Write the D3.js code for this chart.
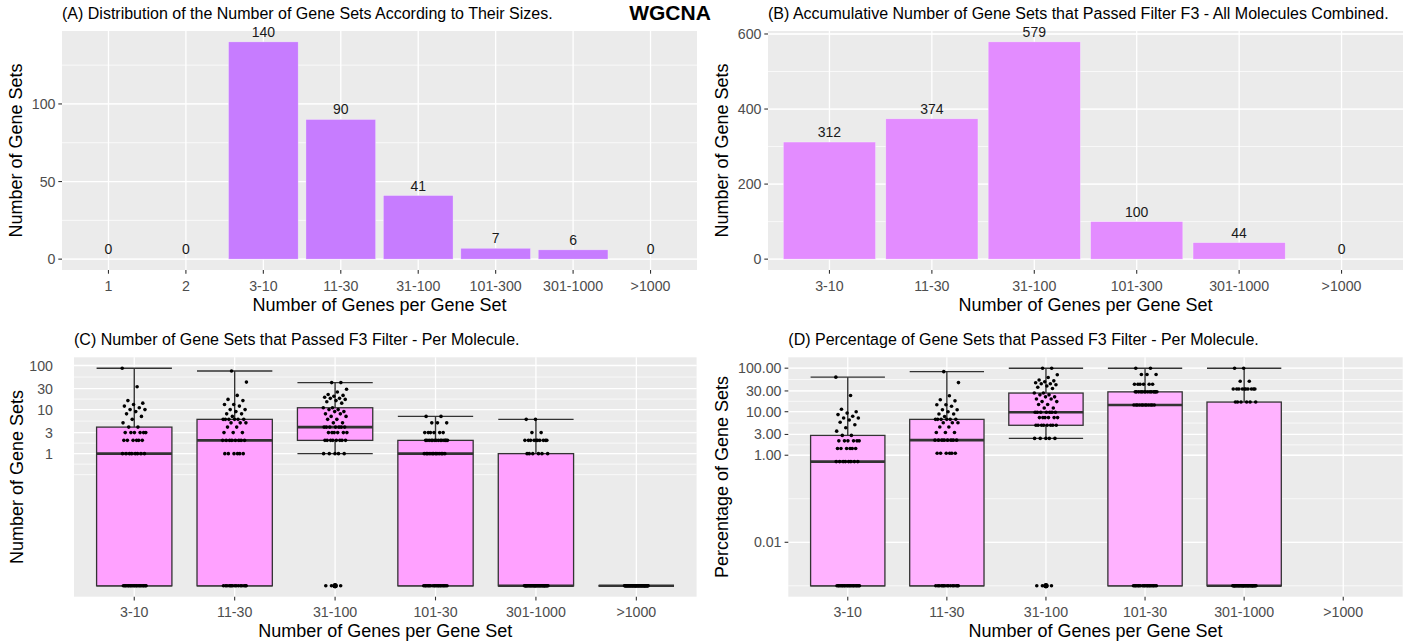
<!DOCTYPE html>
<html>
<head>
<meta charset="utf-8">
<script src="https://cdn.jsdelivr.net/npm/d3@7/dist/d3.min.js"></script>
<style>
body { margin: 0; background: #fff; }
svg text { font-family: "Liberation Sans", Arial, Helvetica, sans-serif; }
</style>
</head>
<body>
<svg id="chart" width="1412" height="644"></svg>
<script>
var sizeCategories = ["1", "2", "3-10", "11-30", "31-100", "101-300", "301-1000", ">1000"];
var sizeCounts = [0, 0, 140, 90, 41, 7, 6, 0];

var passCategories = ["3-10", "11-30", "31-100", "101-300", "301-1000", ">1000"];
var passTotals = [312, 374, 579, 100, 44, 0];

var moleculeCategories = ["3-10", "11-30", "31-100", "101-30", "301-1000", ">1000"];
// number of gene sets passing F3, one value per molecule
var perMolecule_3_10 = [87, 33, 16, 14, 13, 12, 11, 10, 10, 9, 8, 7, 6, 5, 4, 4,
	3, 3, 3, 3, 3, 3, 2, 2, 2, 2, 2, 2, 1, 1, 1, 1, 1, 1, 1, 1,
	0, 0, 0, 0, 0, 0, 0, 0, 0, 0, 0, 0, 0, 0, 0, 0, 0, 0, 0, 0, 0];
var perMolecule_11_30 = [75, 42, 21, 17, 16, 13, 13, 12, 10, 10, 9, 8, 8, 7,
	6, 6, 6, 6, 6, 6, 5, 5, 5, 4, 4, 3, 3, 3, 2, 2, 2, 2, 2, 2, 2, 2,
	1, 1, 1, 1, 1, 1, 0, 0, 0, 0, 0, 0, 0, 0, 0, 0, 0, 0, 0, 0, 0];
var perMolecule_31_100 = [41, 41, 29, 25, 22, 21, 20, 19, 18, 18, 17, 16, 15, 14,
	11, 11, 10, 10, 9, 9, 8, 8, 7, 7, 6, 6, 5, 5, 4, 4, 4, 4, 4, 4, 4,
	3, 3, 3, 3, 3, 3, 2, 2, 2, 2, 2, 2, 2, 2, 1, 1, 1, 1, 1, 0, 0, 0];
var perMolecule_101_300 = [7, 7, 5, 5, 5, 3, 3, 3, 3, 3, 3,
	2, 2, 2, 2, 2, 2, 2, 2, 2, 2, 2, 2, 2, 2, 1, 1, 1, 1, 1, 1, 1, 1, 1, 1, 1, 1,
	0, 0, 0, 0, 0, 0, 0, 0, 0, 0, 0, 0, 0, 0, 0, 0, 0, 0, 0, 0];
var perMolecule_301_1000 = [6, 6, 3, 3, 2, 2, 2, 2, 2, 2, 2, 2, 2, 2, 1, 1, 1, 1, 1, 1,
	0, 0, 0, 0, 0, 0, 0, 0, 0, 0, 0, 0, 0, 0, 0, 0, 0, 0, 0, 0, 0, 0, 0, 0, 0, 0, 0, 0, 0, 0,
	0, 0, 0, 0, 0, 0, 0];
var perMolecule_over_1000 = [0, 0, 0, 0, 0, 0, 0, 0, 0, 0, 0, 0, 0, 0, 0, 0, 0, 0, 0, 0,
	0, 0, 0, 0, 0, 0, 0, 0, 0, 0, 0, 0, 0, 0, 0, 0, 0, 0, 0, 0, 0, 0, 0, 0, 0, 0, 0, 0, 0, 0,
	0, 0, 0, 0, 0, 0, 0];

var aTicks = [0, 50, 100];
var bTicks = [0, 200, 400, 600];
var cTicks = [1, 3, 10, 30, 100];
var cTickLabels = ["1", "3", "10", "30", "100"];
var dTicks = [0.01, 1, 3, 10, 30, 100];
var dTickLabels = ["0.01", "1.00", "3.00", "10.00", "30.00", "100.00"];

var ZERO_FLOOR = 0.001;
var FONT_TICK = 14.2, FONT_VALUE = 14, FONT_AXIS = 18, FONT_TITLE = 16;

var svg = d3.select("#chart");

function minorBreaks(ticks, toT, fromT) {
	var b = ticks.map(toT);
	var bd = b[1] - b[0];
	b.unshift(b[0] - bd);
	b.push(b[b.length - 1] + bd);
	var out = [];
	for (var i = 0; i < b.length - 1; i++) {
		out.push(b[i]);
		out.push((b[i] + b[i + 1]) / 2);
	}
	return out.map(fromT);
}

function drawFrame(p, x, y, ticks, labels, minor) {
	var g = svg.append("g");
	g.append("rect")
		.attr("x", p.x0).attr("y", p.y0)
		.attr("width", p.x1 - p.x0).attr("height", p.y1 - p.y0)
		.attr("fill", "#EBEBEB");

	var inside = function(v) { var py = y(v); return py >= p.y0 && py <= p.y1; };
	g.selectAll(".minor").data(minor.filter(inside)).enter().append("line")
		.attr("x1", p.x0).attr("x2", p.x1)
		.attr("y1", function(d) { return y(d); }).attr("y2", function(d) { return y(d); })
		.attr("stroke", "#fff").attr("stroke-width", 0.7);
	g.selectAll(".major").data(ticks).enter().append("line")
		.attr("x1", p.x0).attr("x2", p.x1)
		.attr("y1", function(d) { return y(d); }).attr("y2", function(d) { return y(d); })
		.attr("stroke", "#fff").attr("stroke-width", 1.3);
	g.selectAll(".vgrid").data(x.domain()).enter().append("line")
		.attr("x1", function(d) { return x(d); }).attr("x2", function(d) { return x(d); })
		.attr("y1", p.y0).attr("y2", p.y1)
		.attr("stroke", "#fff").attr("stroke-width", 1.3);

	// y axis
	g.selectAll(".ylab").data(ticks).enter().append("text")
		.attr("x", p.ylabX).attr("y", function(d) { return y(d) + 5; })
		.attr("text-anchor", "end").attr("font-size", FONT_TICK).attr("fill", "#4D4D4D")
		.text(function(d, i) { return labels[i]; });
	if (p.yTicks) {
		g.selectAll(".ytick").data(ticks).enter().append("line")
			.attr("x1", p.x0 - 3.7).attr("x2", p.x0)
			.attr("y1", function(d) { return y(d); }).attr("y2", function(d) { return y(d); })
			.attr("stroke", "#333").attr("stroke-width", 1.1);
	}
	// x axis
	g.selectAll(".xtick").data(x.domain()).enter().append("line")
		.attr("x1", function(d) { return x(d); }).attr("x2", function(d) { return x(d); })
		.attr("y1", p.y1).attr("y2", p.y1 + 3.7)
		.attr("stroke", "#333").attr("stroke-width", 1.1);
	g.selectAll(".xlab").data(x.domain()).enter().append("text")
		.attr("x", function(d) { return x(d); }).attr("y", p.y1 + 20.5)
		.attr("text-anchor", "middle").attr("font-size", FONT_TICK).attr("fill", "#4D4D4D")
		.text(function(d) { return d; });

	g.append("text")
		.attr("x", (p.x0 + p.x1) / 2).attr("y", p.y1 + 40.5)
		.attr("text-anchor", "middle").attr("font-size", FONT_AXIS).attr("fill", "#000")
		.text(p.xTitle);
	g.append("text")
		.attr("transform", "translate(" + p.yTitleX + "," + ((p.y0 + p.y1) / 2) + ") rotate(-90)")
		.attr("text-anchor", "middle").attr("font-size", FONT_AXIS).attr("fill", "#000")
		.text(p.yTitle);
	g.append("text")
		.attr("x", p.x0).attr("y", p.y0 - 12.5)
		.attr("font-size", FONT_TITLE).attr("fill", "#000")
		.text(p.title);
	return g;
}

function drawBarPanel(p, cats, values, ticks, fill) {
	var x = d3.scalePoint().domain(cats).range([p.x0, p.x1]).padding(0.6);
	var top = d3.max(values);
	var y = d3.scaleLinear().domain([-top * 0.05, top * 1.05]).range([p.y1, p.y0]);
	var minor = minorBreaks(ticks, function(v) { return v; }, function(v) { return v; });
	var g = drawFrame(p, x, y, ticks, ticks.map(String), minor);
	var bw = x.step() * 0.9;
	var data = cats.map(function(c, i) { return { cat: c, v: values[i] }; });

	g.selectAll(".bar").data(data.filter(function(d) { return d.v > 0; })).enter().append("rect")
		.attr("x", function(d) { return x(d.cat) - bw / 2; })
		.attr("y", function(d) { return y(d.v); })
		.attr("width", bw)
		.attr("height", function(d) { return y(0) - y(d.v); })
		.attr("fill", fill)
		.attr("stroke", "#fff").attr("stroke-opacity", 0.5).attr("stroke-width", 0.6);
	g.selectAll(".val").data(data).enter().append("text")
		.attr("x", function(d) { return x(d.cat); })
		.attr("y", function(d) { return y(d.v) - 5; })
		.attr("text-anchor", "middle").attr("font-size", FONT_VALUE).attr("fill", "#1A1A1A")
		.text(function(d) { return d.v; });
}

function boxStats(vals) {
	var logs = vals.map(Math.log10).sort(d3.ascending);
	var q1 = d3.quantileSorted(logs, 0.25);
	var med = d3.quantileSorted(logs, 0.5);
	var q3 = d3.quantileSorted(logs, 0.75);
	var iqr = q3 - q1;
	var lowF = q1 - 1.5 * iqr - 1e-9, highF = q3 + 1.5 * iqr + 1e-9;
	var inside = logs.filter(function(v) { return v >= lowF && v <= highF; });
	var p10 = function(v) { return Math.pow(10, v); };
	return {
		q1: p10(q1), med: p10(med), q3: p10(q3),
		lo: p10(d3.min(inside)), hi: p10(d3.max(inside)),
		outliers: logs.filter(function(v) { return v < lowF || v > highF; }).map(p10)
	};
}

function drawBoxPanel(p, cats, groups, ticks, labels, fill) {
	var x = d3.scalePoint().domain(cats).range([p.x0, p.x1]).padding(0.6);
	var all = d3.merge(groups);
	var lo = Math.log10(d3.min(all)), hi = Math.log10(d3.max(all));
	var pad = (hi - lo) * 0.05;
	var y = d3.scaleLog().domain([Math.pow(10, lo - pad), Math.pow(10, hi + pad)]).range([p.y1, p.y0]);
	var minor = minorBreaks(ticks, Math.log10, function(v) { return Math.pow(10, v); });
	var g = drawFrame(p, x, y, ticks, labels, minor);
	var bw = x.step() * 0.75;
	var jw = x.step() * 0.12;

	groups.forEach(function(vals, k) {
		if (vals.length == 0) return;
		var cx = x(cats[k]);
		var s = boxStats(vals);
		var gb = g.append("g");
		// error bar whiskers
		gb.append("line")
			.attr("x1", cx).attr("x2", cx).attr("y1", y(s.lo)).attr("y2", y(s.hi))
			.attr("stroke", "#333").attr("stroke-width", 1.4);
		[s.lo, s.hi].forEach(function(v) {
			gb.append("line")
				.attr("x1", cx - bw / 2).attr("x2", cx + bw / 2).attr("y1", y(v)).attr("y2", y(v))
				.attr("stroke", "#333").attr("stroke-width", 1.4);
		});
		gb.append("rect")
			.attr("x", cx - bw / 2).attr("y", y(s.q3))
			.attr("width", bw).attr("height", y(s.q1) - y(s.q3))
			.attr("fill", fill).attr("stroke", "#333").attr("stroke-width", 1.3);
		gb.append("line")
			.attr("x1", cx - bw / 2).attr("x2", cx + bw / 2).attr("y1", y(s.med)).attr("y2", y(s.med))
			.attr("stroke", "#333").attr("stroke-width", 2.6);
		gb.selectAll(".out").data(s.outliers).enter().append("circle")
			.attr("cx", cx).attr("cy", function(d) { return y(d); })
			.attr("r", 2.5).attr("fill", "#000");
		gb.selectAll(".pt").data(vals).enter().append("circle")
			.attr("cx", function(d, i) { return cx + (((i * 0.618034 + k * 0.37) % 1) - 0.5) * 2 * jw; })
			.attr("cy", function(d) { return y(d); })
			.attr("r", 1.8).attr("fill", "#000");
	});
}

var perMolecule = [perMolecule_3_10, perMolecule_11_30, perMolecule_31_100,
	perMolecule_101_300, perMolecule_301_1000, perMolecule_over_1000];
var groupSizes = sizeCounts.slice(2);

var countGroups = perMolecule.map(function(vals) {
	return vals.map(function(v) { return v > 0 ? v : ZERO_FLOOR; });
});
var percentGroups = perMolecule.map(function(vals, k) {
	if (groupSizes[k] == 0) return [];
	return vals.map(function(v) { var pc = v / groupSizes[k] * 100; return pc > 0 ? pc : ZERO_FLOOR; });
});

var xTitle = "Number of Genes per Gene Set";

drawBarPanel({ x0: 62, x1: 697, y0: 31, y1: 270, ylabX: 55.5, yTicks: true, yTitleX: 22,
	title: "(A) Distribution of the Number of Gene Sets According to Their Sizes.",
	xTitle: xTitle, yTitle: "Number of Gene Sets" }, sizeCategories, sizeCounts, aTicks, "#C77CFF");

drawBarPanel({ x0: 768, x1: 1403, y0: 31, y1: 270, ylabX: 761.5, yTicks: true, yTitleX: 727.5,
	title: "(B) Accumulative Number of Gene Sets that Passed Filter F3 - All Molecules Combined.",
	xTitle: xTitle, yTitle: "Number of Gene Sets" }, passCategories, passTotals, bTicks, "#E38CFF");

drawBoxPanel({ x0: 74, x1: 696.6, y0: 357.3, y1: 596.7, ylabX: 53, yTicks: false, yTitleX: 22.5,
	title: "(C) Number of Gene Sets that Passed F3 Filter - Per Molecule.",
	xTitle: xTitle, yTitle: "Number of Gene Sets" }, moleculeCategories, countGroups, cTicks, cTickLabels, "#FFA1FF");

drawBoxPanel({ x0: 788.3, x1: 1402.7, y0: 357.3, y1: 596.7, ylabX: 781.5, yTicks: true, yTitleX: 727.5,
	title: "(D) Percentage of Gene Sets that Passed F3 Filter - Per Molecule.",
	xTitle: xTitle, yTitle: "Percentage of Gene Sets" }, moleculeCategories, percentGroups, dTicks, dTickLabels, "#FFB2FF");

svg.append("text")
	.attr("x", 670).attr("y", 20)
	.attr("text-anchor", "middle").attr("font-size", 21).attr("font-weight", "bold").attr("fill", "#000")
	.text("WGCNA");
</script>
</body>
</html>
